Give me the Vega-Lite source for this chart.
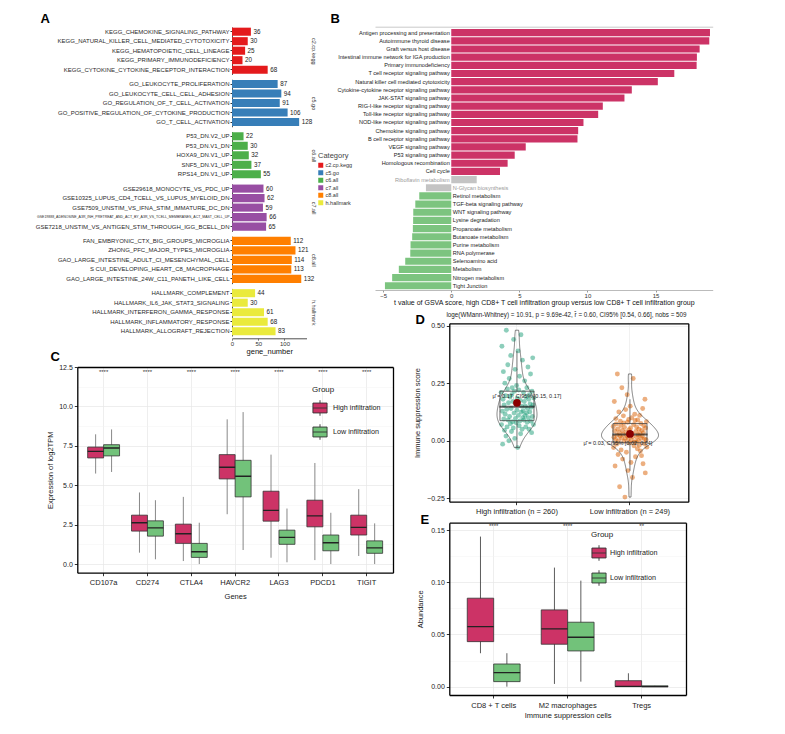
{
"$schema": "https://vega.github.io/schema/vega-lite/v6.json",
"width": 785, "height": 734, "autosize": {"type": "none"}, "padding": 0, "background": "white",
"config": {"view": {"stroke": null}, "font": "Liberation Sans", "text": {"font": "Liberation Sans"},
  "axis": {"labelFont": "Liberation Sans", "titleFont": "Liberation Sans"},
  "legend": {"labelFont": "Liberation Sans", "titleFont": "Liberation Sans"}},
"datasets": {
"gsea": [
{"cat":"c2.cp.kegg","term":"KEGG_CHEMOKINE_SIGNALING_PATHWAY","n":36},
{"cat":"c2.cp.kegg","term":"KEGG_NATURAL_KILLER_CELL_MEDIATED_CYTOTOXICITY","n":30},
{"cat":"c2.cp.kegg","term":"KEGG_HEMATOPOIETIC_CELL_LINEAGE","n":25},
{"cat":"c2.cp.kegg","term":"KEGG_PRIMARY_IMMUNODEFICIENCY","n":20},
{"cat":"c2.cp.kegg","term":"KEGG_CYTOKINE_CYTOKINE_RECEPTOR_INTERACTION","n":68},
{"cat":"c5.go","term":"GO_LEUKOCYTE_PROLIFERATION","n":87},
{"cat":"c5.go","term":"GO_LEUKOCYTE_CELL_CELL_ADHESION","n":94},
{"cat":"c5.go","term":"GO_REGULATION_OF_T_CELL_ACTIVATION","n":91},
{"cat":"c5.go","term":"GO_POSITIVE_REGULATION_OF_CYTOKINE_PRODUCTION","n":106},
{"cat":"c5.go","term":"GO_T_CELL_ACTIVATION","n":128},
{"cat":"c6.all","term":"P53_DN.V2_UP","n":22},
{"cat":"c6.all","term":"P53_DN.V1_DN","n":30},
{"cat":"c6.all","term":"HOXA9_DN.V1_UP","n":32},
{"cat":"c6.all","term":"SNF5_DN.V1_UP","n":37},
{"cat":"c6.all","term":"RPS14_DN.V1_UP","n":55},
{"cat":"c7.all","term":"GSE29618_MONOCYTE_VS_PDC_UP","n":60},
{"cat":"c7.all","term":"GSE10325_LUPUS_CD4_TCELL_VS_LUPUS_MYELOID_DN","n":62},
{"cat":"c7.all","term":"GSE7509_UNSTIM_VS_IFNA_STIM_IMMATURE_DC_DN","n":59},
{"cat":"c7.all","term":"GSE19888_ADENOSINE_A3R_INH_PRETREAT_AND_ACT_BY_A3R_VS_TCELL_MEMBRANES_ACT_MAST_CELL_UP","n":66},
{"cat":"c7.all","term":"GSE7218_UNSTIM_VS_ANTIGEN_STIM_THROUGH_IGG_BCELL_DN","n":65},
{"cat":"c8.all","term":"FAN_EMBRYONIC_CTX_BIG_GROUPS_MICROGLIA","n":112},
{"cat":"c8.all","term":"ZHONG_PFC_MAJOR_TYPES_MICROGLIA","n":121},
{"cat":"c8.all","term":"GAO_LARGE_INTESTINE_ADULT_CI_MESENCHYMAL_CELL","n":114},
{"cat":"c8.all","term":"S CUI_DEVELOPING_HEART_C8_MACROPHAGE","n":113},
{"cat":"c8.all","term":"GAO_LARGE_INTESTINE_24W_C11_PANETH_LIKE_CELL","n":132},
{"cat":"h.hallmark","term":"HALLMARK_COMPLEMENT","n":44},
{"cat":"h.hallmark","term":"HALLMARK_IL6_JAK_STAT3_SIGNALING","n":30},
{"cat":"h.hallmark","term":"HALLMARK_INTERFERON_GAMMA_RESPONSE","n":61},
{"cat":"h.hallmark","term":"HALLMARK_INFLAMMATORY_RESPONSE","n":68},
{"cat":"h.hallmark","term":"HALLMARK_ALLOGRAFT_REJECTION","n":83}
],
"gsva": [
{"path":"Antigen processing and presentation","t":19.0,"cls":"up"},
{"path":"Autoimmune thyroid disease","t":18.95,"cls":"up"},
{"path":"Graft versus host disease","t":18.24,"cls":"up"},
{"path":"Intestinal immune network for IGA production","t":18.04,"cls":"up"},
{"path":"Primary immunodeficiency","t":18.02,"cls":"up"},
{"path":"T cell receptor signaling pathway","t":16.38,"cls":"up"},
{"path":"Natural killer cell mediated cytotoxicity","t":15.17,"cls":"up"},
{"path":"Cytokine-cytokine receptor signaling pathway","t":13.26,"cls":"up"},
{"path":"JAK-STAT signaling pathway","t":12.72,"cls":"up"},
{"path":"RIG-I-like receptor signaling pathway","t":11.13,"cls":"up"},
{"path":"Toll-like receptor signaling pathway","t":10.79,"cls":"up"},
{"path":"NOD-like receptor signaling pathway","t":9.71,"cls":"up"},
{"path":"Chemokine signaling pathway","t":9.32,"cls":"up"},
{"path":"B cell receptor signaling pathway","t":9.27,"cls":"up"},
{"path":"VEGF signaling pathway","t":5.47,"cls":"up"},
{"path":"P53 signaling pathway","t":4.66,"cls":"up"},
{"path":"Homologous recombination","t":4.14,"cls":"up"},
{"path":"Cell cycle","t":3.58,"cls":"up"},
{"path":"Riboflavin metabolism","t":1.87,"cls":"ns"},
{"path":"N-Glycan biosynthesis","t":-1.86,"cls":"ns"},
{"path":"Retinol metabolism","t":-2.35,"cls":"down"},
{"path":"TGF-beta signaling pathway","t":-2.64,"cls":"down"},
{"path":"WNT signaling pathway","t":-2.79,"cls":"down"},
{"path":"Lysine degradation","t":-2.8,"cls":"down"},
{"path":"Propanoate metabolism","t":-2.82,"cls":"down"},
{"path":"Butanoate metabolism","t":-2.87,"cls":"down"},
{"path":"Purine metabolism","t":-2.99,"cls":"down"},
{"path":"RNA polymerase","t":-3.01,"cls":"down"},
{"path":"Selenoamino acid","t":-3.38,"cls":"down"},
{"path":"Metabolism","t":-3.85,"cls":"down"},
{"path":"Nitrogen metabolism","t":-4.34,"cls":"down"},
{"path":"Tight Junction","t":-4.87,"cls":"down"}
],
"expr": [
{"gene":"CD107a","group":"High infiltration","lo":5.74,"q1":6.73,"med":7.15,"q3":7.42,"hi":8.23},
{"gene":"CD107a","group":"Low infiltration","lo":5.84,"q1":6.86,"med":7.36,"q3":7.57,"hi":8.54},
{"gene":"CD274","group":"High infiltration","lo":0.72,"q1":2.09,"med":2.62,"q3":3.1,"hi":4.54},
{"gene":"CD274","group":"Low infiltration","lo":0.3,"q1":1.77,"med":2.3,"q3":2.74,"hi":4.05},
{"gene":"CTLA4","group":"High infiltration","lo":0.19,"q1":1.31,"med":1.92,"q3":2.53,"hi":4.26},
{"gene":"CTLA4","group":"Low infiltration","lo":0.0,"q1":0.42,"med":0.78,"q3":1.31,"hi":2.62},
{"gene":"HAVCR2","group":"High infiltration","lo":3.16,"q1":5.4,"med":6.14,"q3":6.94,"hi":9.18},
{"gene":"HAVCR2","group":"Low infiltration","lo":0.89,"q1":4.26,"med":5.57,"q3":6.58,"hi":9.64},
{"gene":"LAG3","group":"High infiltration","lo":0.4,"q1":2.72,"med":3.4,"q3":4.62,"hi":6.94},
{"gene":"LAG3","group":"Low infiltration","lo":0.11,"q1":1.25,"med":1.69,"q3":2.15,"hi":3.52},
{"gene":"PDCD1","group":"High infiltration","lo":0.25,"q1":2.36,"med":3.06,"q3":4.05,"hi":6.41},
{"gene":"PDCD1","group":"Low infiltration","lo":0.0,"q1":0.84,"med":1.35,"q3":1.84,"hi":3.25},
{"gene":"TIGIT","group":"High infiltration","lo":0.51,"q1":1.84,"med":2.32,"q3":3.1,"hi":4.75},
{"gene":"TIGIT","group":"Low infiltration","lo":0.0,"q1":0.68,"med":1.03,"q3":1.47,"hi":2.58}
],
"exprSig": [
{"gene":"CD107a","sig":"****"},{"gene":"CD274","sig":"****"},{"gene":"CTLA4","sig":"****"},{"gene":"HAVCR2","sig":"****"},
{"gene":"LAG3","sig":"****"},{"gene":"PDCD1","sig":"****"},{"gene":"TIGIT","sig":"****"}
],
"abund": [
{"cell":"CD8 + T cells","group":"High infiltration","lo":0.032,"q1":0.0431,"med":0.0575,"q3":0.0847,"hi":0.1437},
{"cell":"CD8 + T cells","group":"Low infiltration","lo":0.0,"q1":0.0048,"med":0.0134,"q3":0.0217,"hi":0.032},
{"cell":"M2 macrophages","group":"High infiltration","lo":0.0026,"q1":0.0406,"med":0.0553,"q3":0.0735,"hi":0.114},
{"cell":"M2 macrophages","group":"Low infiltration","lo":0.0048,"q1":0.0342,"med":0.0473,"q3":0.0617,"hi":0.1015},
{"cell":"Tregs","group":"High infiltration","lo":0.0,"q1":0.0,"med":0.0002,"q3":0.0057,"hi":0.0128},
{"cell":"Tregs","group":"Low infiltration","lo":0.0,"q1":0.0,"med":0.0,"q3":0.0008,"hi":0.0008}
],
"abundSig": [
{"cell":"CD8 + T cells","sig":"****"},{"cell":"M2 macrophages","sig":"****"},{"cell":"Tregs","sig":"**"}
],
"supp": [
{"g":"High","id":"h1","s":0.21},{"g":"High","id":"h2","s":0.07},{"g":"High","id":"h3","s":0.41},{"g":"High","id":"h4","s":0.128},
{"g":"High","id":"h5","s":-0.015},{"g":"High","id":"h6","s":0.18},{"g":"High","id":"h7","s":0.3},{"g":"High","id":"h8","s":0.094},
{"g":"High","id":"h9","s":0.155},{"g":"High","id":"h10","s":0.045},{"g":"High","id":"h11","s":0.25},{"g":"High","id":"h12","s":0.115},
{"g":"High","id":"h13","s":0.195},{"g":"High","id":"h14","s":0.02},{"g":"High","id":"h15","s":0.48},{"g":"High","id":"h16","s":0.136},
{"g":"High","id":"h17","s":0.06},{"g":"High","id":"h18","s":0.225},{"g":"High","id":"h19","s":0.33},{"g":"High","id":"h20","s":0.09},
{"g":"High","id":"h21","s":0.165},{"g":"High","id":"h22","s":0.0},{"g":"High","id":"h23","s":0.27},{"g":"High","id":"h24","s":0.105},
{"g":"High","id":"h25","s":0.19},{"g":"High","id":"h26","s":0.074},{"g":"High","id":"h27","s":0.37},{"g":"High","id":"h28","s":0.14},
{"g":"High","id":"h29","s":0.04},{"g":"High","id":"h30","s":0.2},{"g":"High","id":"h31","s":0.23},{"g":"High","id":"h32","s":0.082},
{"g":"High","id":"h33","s":0.17},{"g":"High","id":"h34","s":0.055},{"g":"High","id":"h35","s":0.44},{"g":"High","id":"h36","s":0.12},
{"g":"High","id":"h37","s":0.215},{"g":"High","id":"h38","s":0.01},{"g":"High","id":"h39","s":0.31},{"g":"High","id":"h40","s":0.097},
{"g":"High","id":"h41","s":0.16},{"g":"High","id":"h42","s":0.078},{"g":"High","id":"h43","s":0.24},{"g":"High","id":"h44","s":0.132},
{"g":"High","id":"h45","s":0.185},{"g":"High","id":"h46","s":-0.03},{"g":"High","id":"h47","s":0.39},{"g":"High","id":"h48","s":0.11},
{"g":"High","id":"h49","s":0.22},{"g":"High","id":"h50","s":0.065},{"g":"High","id":"h51","s":0.28},{"g":"High","id":"h52","s":0.086},
{"g":"High","id":"h53","s":0.175},{"g":"High","id":"h54","s":0.03},{"g":"High","id":"h55","s":0.46},{"g":"High","id":"h56","s":0.124},
{"g":"High","id":"h57","s":0.15},{"g":"High","id":"h58","s":0.05},{"g":"High","id":"h59","s":0.35},{"g":"High","id":"h60","s":0.1},
{"g":"High","id":"h61","s":0.13},{"g":"High","id":"h62","s":0.21},{"g":"High","id":"h63","s":0.09},{"g":"High","id":"h64","s":0.17},
{"g":"High","id":"h65","s":0.26},{"g":"High","id":"h66","s":0.11},{"g":"High","id":"h67","s":0.15},{"g":"High","id":"h68","s":0.06},
{"g":"High","id":"h69","s":0.19},{"g":"High","id":"h70","s":0.12},{"g":"High","id":"h71","s":0.23},{"g":"High","id":"h72","s":0.08},
{"g":"High","id":"h73","s":0.14},{"g":"High","id":"h74","s":0.32},{"g":"High","id":"h75","s":0.1},{"g":"High","id":"h76","s":0.18},
{"g":"High","id":"h77","s":0.05},{"g":"High","id":"h78","s":0.2},{"g":"High","id":"h79","s":0.125},{"g":"High","id":"h80","s":0.16},
{"g":"High","id":"h81","s":0.29},{"g":"High","id":"h82","s":0.085},{"g":"High","id":"h83","s":0.145},{"g":"High","id":"h84","s":0.035},
{"g":"High","id":"h85","s":0.215},{"g":"High","id":"h86","s":0.105},{"g":"High","id":"h87","s":0.36},{"g":"High","id":"h88","s":0.155},
{"g":"High","id":"h89","s":0.07},{"g":"High","id":"h90","s":0.185},
{"g":"Low","id":"l1","s":0.062},{"g":"Low","id":"l2","s":-0.03},{"g":"Low","id":"l3","s":0.015},{"g":"Low","id":"l4","s":0.17},
{"g":"Low","id":"l5","s":0.042},{"g":"Low","id":"l6","s":-0.11},{"g":"Low","id":"l7","s":0.005},{"g":"Low","id":"l8","s":0.096},
{"g":"Low","id":"l9","s":0.073},{"g":"Low","id":"l10","s":-0.015},{"g":"Low","id":"l11","s":0.024},{"g":"Low","id":"l12","s":0.29},
{"g":"Low","id":"l13","s":0.051},{"g":"Low","id":"l14","s":-0.06},{"g":"Low","id":"l15","s":0.0},{"g":"Low","id":"l16","s":0.125},
{"g":"Low","id":"l17","s":0.035},{"g":"Low","id":"l18","s":-0.2},{"g":"Low","id":"l19","s":0.02},{"g":"Low","id":"l20","s":0.085},
{"g":"Low","id":"l21","s":0.066},{"g":"Low","id":"l22","s":-0.04},{"g":"Low","id":"l23","s":0.012},{"g":"Low","id":"l24","s":0.23},
{"g":"Low","id":"l25","s":0.045},{"g":"Low","id":"l26","s":-0.08},{"g":"Low","id":"l27","s":0.028},{"g":"Low","id":"l28","s":0.108},
{"g":"Low","id":"l29","s":0.077},{"g":"Low","id":"l30","s":-0.002},{"g":"Low","id":"l31","s":0.058},{"g":"Low","id":"l32","s":-0.245},
{"g":"Low","id":"l33","s":0.01},{"g":"Low","id":"l34","s":0.135},{"g":"Low","id":"l35","s":0.038},{"g":"Low","id":"l36","s":-0.05},
{"g":"Low","id":"l37","s":0.022},{"g":"Low","id":"l38","s":0.2},{"g":"Low","id":"l39","s":0.08},{"g":"Low","id":"l40","s":-0.13},
{"g":"Low","id":"l41","s":0.007},{"g":"Low","id":"l42","s":0.092},{"g":"Low","id":"l43","s":0.048},{"g":"Low","id":"l44","s":-0.01},
{"g":"Low","id":"l45","s":0.026},{"g":"Low","id":"l46","s":0.15},{"g":"Low","id":"l47","s":0.055},{"g":"Low","id":"l48","s":-0.095},
{"g":"Low","id":"l49","s":0.002},{"g":"Low","id":"l50","s":0.1},{"g":"Low","id":"l51","s":0.032},{"g":"Low","id":"l52","s":-0.16},
{"g":"Low","id":"l53","s":0.017},{"g":"Low","id":"l54","s":0.27},{"g":"Low","id":"l55","s":0.07},{"g":"Low","id":"l56","s":-0.022},
{"g":"Low","id":"l57","s":-0.004},{"g":"Low","id":"l58","s":0.115},{"g":"Low","id":"l59","s":0.088},{"g":"Low","id":"l60","s":-0.07},
{"g":"Low","id":"l61","s":0.04},{"g":"Low","id":"l62","s":-0.005},{"g":"Low","id":"l63","s":0.06},{"g":"Low","id":"l64","s":0.015},
{"g":"Low","id":"l65","s":-0.035},{"g":"Low","id":"l66","s":0.09},{"g":"Low","id":"l67","s":0.025},{"g":"Low","id":"l68","s":0.0},
{"g":"Low","id":"l69","s":0.05},{"g":"Low","id":"l70","s":-0.02},{"g":"Low","id":"l71","s":0.11},{"g":"Low","id":"l72","s":0.03},
{"g":"Low","id":"l73","s":-0.045},{"g":"Low","id":"l74","s":0.075},{"g":"Low","id":"l75","s":0.01},{"g":"Low","id":"l76","s":-0.065},
{"g":"Low","id":"l77","s":0.045},{"g":"Low","id":"l78","s":0.02},{"g":"Low","id":"l79","s":0.14},{"g":"Low","id":"l80","s":-0.1},
{"g":"Low","id":"l81","s":0.035},{"g":"Low","id":"l82","s":0.065},{"g":"Low","id":"l83","s":-0.012},{"g":"Low","id":"l84","s":0.008},
{"g":"Low","id":"l85","s":0.18},{"g":"Low","id":"l86","s":-0.14},{"g":"Low","id":"l87","s":0.055},{"g":"Low","id":"l88","s":0.004},
{"g":"Low","id":"l89","s":0.082},{"g":"Low","id":"l90","s":-0.028}
],
"suppLab": [
{"g":"High","mu":0.17,"label":"\u03bc\u0302 = 0.17, CI95% [0.15, 0.17]"},
{"g":"Low","mu":0.03,"label":"\u03bc\u0302 = 0.03, CI95% [0.02, 0.04]"}
]
},
"resolve": {"scale": {"x": "independent", "y": "independent", "color": "independent", "xOffset": "independent"}, "axis": {"x": "independent", "y": "independent"}},
"layer": [
{
 "data": {"name": "gsea"},
 "resolve": {"scale": {"y": "independent"}, "axis": {"x": "independent", "y": "independent"}},
 "layer": [
  {"transform": [{"filter": "datum.cat === 'c2.cp.kegg'"}], "resolve": {"axis": {"x": "independent", "y": "independent"}},
   "layer": [
    {"mark": {"type": "bar"}, "encoding": {
      "y": {"field": "term", "type": "nominal", "sort": null, "scale": {"range": [26.95, 74.45], "paddingInner": 0.15, "paddingOuter": 0.075},
            "axis": {"orient": "left", "offset": -232, "title": null, "domainColor": "#222", "domainWidth": 0.8, "tickSize": 2, "tickColor": "#333", "labelPadding": 1, "labelFontSize": 6, "labelColor": "#2A2A2A", "labelLimit": 400, "grid": false}},
      "x": {"field": "n", "type": "quantitative", "scale": {"domain": [0, 142], "range": [232, 306.5], "nice": false, "zero": false},
            "axis": {"orient": "bottom", "offset": -395.7, "values": [0, 50, 100], "title": "gene_number", "titleFontSize": 7.5, "titleFontWeight": "normal", "titlePadding": 1.5, "titleColor": "#111", "labelFontSize": 6, "labelColor": "#333", "labelPadding": 0, "labelFlush": false, "tickSize": 2, "domainColor": "#222", "domainWidth": 0.8, "grid": false}},
      "color": {"field": "cat", "type": "nominal", "scale": {"domain": ["c2.cp.kegg","c5.go","c6.all","c7.all","c8.all","h.hallmark"], "range": ["#E41A1C","#377EB8","#4DAF4A","#984EA3","#FF7F00","#EAEA3C"]},
            "legend": {"orient": "none", "legendX": 318, "legendY": 152, "title": "Category", "titleFontSize": 7.5, "titleFontWeight": "normal", "titleColor": "#444", "titlePadding": 3, "labelFontSize": 5.5, "labelColor": "#333", "labelOffset": 2, "symbolType": "square", "symbolSize": 25, "symbolStrokeWidth": 0, "rowPadding": 0.5}}}},
    {"mark": {"type": "text", "align": "left", "baseline": "middle", "dx": 2.5, "fontSize": 6.3, "color": "#222"}, "encoding": {
      "y": {"field": "term", "type": "nominal", "sort": null, "axis": {"orient": "right", "offset": -472, "labels": false, "ticks": false, "domain": false, "grid": false, "title": "c2.cp.kegg", "titleAngle": 90, "titleFontSize": 5.5, "titleFontWeight": "normal", "titleColor": "#333", "titlePadding": 0, "titleBaseline": "middle"}},
      "x": {"field": "n", "type": "quantitative", "axis": {"orient": "top", "offset": 0, "labels": false, "ticks": false, "domain": false, "grid": false, "title": "A", "titleX": 40, "titleY": 22.5, "titleAlign": "left", "titleBaseline": "alphabetic", "titleAngle": 0, "titleFontSize": 13, "titleFontWeight": "bold", "titleColor": "#000"}},
      "text": {"field": "n", "type": "quantitative"}}}
   ]},
  {"transform": [{"filter": "datum.cat === 'c5.go'"}], "resolve": {"axis": {"x": "independent", "y": "independent"}},
   "layer": [
    {"mark": {"type": "bar"}, "encoding": {
      "y": {"field": "term", "type": "nominal", "sort": null, "scale": {"range": [79.25, 126.75], "paddingInner": 0.15, "paddingOuter": 0.075},
            "axis": {"orient": "left", "offset": -232, "title": null, "domainColor": "#222", "domainWidth": 0.8, "tickSize": 2, "tickColor": "#333", "labelPadding": 1, "labelFontSize": 6, "labelColor": "#2A2A2A", "labelLimit": 400, "grid": false}},
      "x": {"field": "n", "type": "quantitative", "axis": null},
      "color": {"field": "cat", "type": "nominal"}}},
    {"mark": {"type": "text", "align": "left", "baseline": "middle", "dx": 2.5, "fontSize": 6.3, "color": "#222"}, "encoding": {
      "y": {"field": "term", "type": "nominal", "sort": null, "axis": {"orient": "right", "offset": -472, "labels": false, "ticks": false, "domain": false, "grid": false, "title": "c5.go", "titleAngle": 90, "titleFontSize": 5.5, "titleFontWeight": "normal", "titleColor": "#333", "titlePadding": 0, "titleBaseline": "middle"}},
      "x": {"field": "n", "type": "quantitative", "axis": null},
      "text": {"field": "n", "type": "quantitative"}}}
   ]},
  {"transform": [{"filter": "datum.cat === 'c6.all'"}], "resolve": {"axis": {"x": "independent", "y": "independent"}},
   "layer": [
    {"mark": {"type": "bar"}, "encoding": {
      "y": {"field": "term", "type": "nominal", "sort": null, "scale": {"range": [131.55, 179.05], "paddingInner": 0.15, "paddingOuter": 0.075},
            "axis": {"orient": "left", "offset": -232, "title": null, "domainColor": "#222", "domainWidth": 0.8, "tickSize": 2, "tickColor": "#333", "labelPadding": 1, "labelFontSize": 6, "labelColor": "#2A2A2A", "labelLimit": 400, "grid": false}},
      "x": {"field": "n", "type": "quantitative", "axis": null},
      "color": {"field": "cat", "type": "nominal"}}},
    {"mark": {"type": "text", "align": "left", "baseline": "middle", "dx": 2.5, "fontSize": 6.3, "color": "#222"}, "encoding": {
      "y": {"field": "term", "type": "nominal", "sort": null, "axis": {"orient": "right", "offset": -472, "labels": false, "ticks": false, "domain": false, "grid": false, "title": "c6.all", "titleAngle": 90, "titleFontSize": 5.5, "titleFontWeight": "normal", "titleColor": "#333", "titlePadding": 0, "titleBaseline": "middle"}},
      "x": {"field": "n", "type": "quantitative", "axis": null},
      "text": {"field": "n", "type": "quantitative"}}}
   ]},
  {"transform": [{"filter": "datum.cat === 'c7.all'"}], "resolve": {"axis": {"x": "independent", "y": "independent"}},
   "layer": [
    {"mark": {"type": "bar"}, "encoding": {
      "y": {"field": "term", "type": "nominal", "sort": null, "scale": {"range": [183.85, 231.35], "paddingInner": 0.15, "paddingOuter": 0.075},
            "axis": {"orient": "left", "offset": -232, "title": null, "domainColor": "#222", "domainWidth": 0.8, "tickSize": 2, "tickColor": "#333", "labelPadding": 1, "labelFontSize": {"condition": {"test": "length(datum.label) > 60", "value": 3.5}, "value": 6}, "labelColor": "#2A2A2A", "labelLimit": 400, "grid": false}},
      "x": {"field": "n", "type": "quantitative", "axis": null},
      "color": {"field": "cat", "type": "nominal"}}},
    {"mark": {"type": "text", "align": "left", "baseline": "middle", "dx": 2.5, "fontSize": 6.3, "color": "#222"}, "encoding": {
      "y": {"field": "term", "type": "nominal", "sort": null, "axis": {"orient": "right", "offset": -472, "labels": false, "ticks": false, "domain": false, "grid": false, "title": "c7.all", "titleAngle": 90, "titleFontSize": 5.5, "titleFontWeight": "normal", "titleColor": "#333", "titlePadding": 0, "titleBaseline": "middle"}},
      "x": {"field": "n", "type": "quantitative", "axis": null},
      "text": {"field": "n", "type": "quantitative"}}}
   ]},
  {"transform": [{"filter": "datum.cat === 'c8.all'"}], "resolve": {"axis": {"x": "independent", "y": "independent"}},
   "layer": [
    {"mark": {"type": "bar"}, "encoding": {
      "y": {"field": "term", "type": "nominal", "sort": null, "scale": {"range": [236.15, 283.65], "paddingInner": 0.15, "paddingOuter": 0.075},
            "axis": {"orient": "left", "offset": -232, "title": null, "domainColor": "#222", "domainWidth": 0.8, "tickSize": 2, "tickColor": "#333", "labelPadding": 1, "labelFontSize": 6, "labelColor": "#2A2A2A", "labelLimit": 400, "grid": false}},
      "x": {"field": "n", "type": "quantitative", "axis": null},
      "color": {"field": "cat", "type": "nominal"}}},
    {"mark": {"type": "text", "align": "left", "baseline": "middle", "dx": 2.5, "fontSize": 6.3, "color": "#222"}, "encoding": {
      "y": {"field": "term", "type": "nominal", "sort": null, "axis": {"orient": "right", "offset": -472, "labels": false, "ticks": false, "domain": false, "grid": false, "title": "c8.all", "titleAngle": 90, "titleFontSize": 5.5, "titleFontWeight": "normal", "titleColor": "#333", "titlePadding": 0, "titleBaseline": "middle"}},
      "x": {"field": "n", "type": "quantitative", "axis": null},
      "text": {"field": "n", "type": "quantitative"}}}
   ]},
  {"transform": [{"filter": "datum.cat === 'h.hallmark'"}], "resolve": {"axis": {"x": "independent", "y": "independent"}},
   "layer": [
    {"mark": {"type": "bar"}, "encoding": {
      "y": {"field": "term", "type": "nominal", "sort": null, "scale": {"range": [288.45, 335.95], "paddingInner": 0.15, "paddingOuter": 0.075},
            "axis": {"orient": "left", "offset": -232, "title": null, "domainColor": "#222", "domainWidth": 0.8, "tickSize": 2, "tickColor": "#333", "labelPadding": 1, "labelFontSize": 6, "labelColor": "#2A2A2A", "labelLimit": 400, "grid": false}},
      "x": {"field": "n", "type": "quantitative", "axis": null},
      "color": {"field": "cat", "type": "nominal"}}},
    {"mark": {"type": "text", "align": "left", "baseline": "middle", "dx": 2.5, "fontSize": 6.3, "color": "#222"}, "encoding": {
      "y": {"field": "term", "type": "nominal", "sort": null, "axis": {"orient": "right", "offset": -472, "labels": false, "ticks": false, "domain": false, "grid": false, "title": "h.hallmark", "titleAngle": 90, "titleFontSize": 5.5, "titleFontWeight": "normal", "titleColor": "#333", "titlePadding": 0, "titleBaseline": "middle"}},
      "x": {"field": "n", "type": "quantitative", "axis": null},
      "text": {"field": "n", "type": "quantitative"}}}
   ]}
 ]
},
{
 "data": {"name": "gsva"},
 "resolve": {"axis": {"x": "independent", "y": "independent"}},
 "layer": [
  {"mark": {"type": "bar"}, "encoding": {
    "y": {"field": "path", "type": "nominal", "sort": null, "scale": {"domain": ["Antigen processing and presentation","Autoimmune thyroid disease","Graft versus host disease","Intestinal immune network for IGA production","Primary immunodeficiency","T cell receptor signaling pathway","Natural killer cell mediated cytotoxicity","Cytokine-cytokine receptor signaling pathway","JAK-STAT signaling pathway","RIG-I-like receptor signaling pathway","Toll-like receptor signaling pathway","NOD-like receptor signaling pathway","Chemokine signaling pathway","B cell receptor signaling pathway","VEGF signaling pathway","P53 signaling pathway","Homologous recombination","Cell cycle","Riboflavin metabolism","N-Glycan biosynthesis","Retinol metabolism","TGF-beta signaling pathway","WNT signaling pathway","Lysine degradation","Propanoate metabolism","Butanoate metabolism","Purine metabolism","RNA polymerase","Selenoamino acid","Metabolism","Nitrogen metabolism","Tight Junction"], "range": [28.6, 289.8], "paddingInner": 0.12, "paddingOuter": 0.06}, "axis": null},
    "x": {"field": "t", "type": "quantitative", "scale": {"domain": [-5.6, 19.2], "range": [375, 712.7], "nice": false, "zero": false},
          "axis": {"orient": "bottom", "offset": -444, "values": [-5, 0, 5, 10, 15], "title": "t value of GSVA score, high CD8+ T cell infiltration group versus low CD8+ T cell infiltration group", "titleFontSize": 7, "titleFontWeight": "normal", "titlePadding": 0, "titleColor": "#111", "labelFontSize": 6, "labelColor": "#333", "labelPadding": 0, "labelFlush": false, "tickSize": 2, "tickColor": "#999", "domainColor": "#AAAAAA", "domainWidth": 0.8, "grid": false}},
    "color": {"field": "cls", "type": "nominal", "scale": {"domain": ["up","ns","down"], "range": ["#CC3366","#C4C4C4","#7CC47F"]}, "legend": null}}},
  {"transform": [{"filter": "datum.t > 0"}], "mark": {"type": "text", "align": "right", "baseline": "middle", "dx": -1.5, "fontSize": 5.6}, "encoding": {
    "y": {"field": "path", "type": "nominal", "sort": null, "axis": null},
    "x": {"datum": 0, "type": "quantitative", "axis": {"orient": "top", "offset": -26.7, "labels": false, "ticks": false, "grid": false, "domain": true, "domainColor": "#BBBBBB", "domainWidth": 0.8, "title": "B", "titleX": 330, "titleY": -4.2, "titleAlign": "left", "titleBaseline": "alphabetic", "titleAngle": 0, "titleFontSize": 13, "titleFontWeight": "bold", "titleColor": "#000"}},
    "text": {"field": "path"},
    "color": {"condition": {"test": "datum.cls === 'ns'", "value": "#9A9A9A"}, "value": "#1A1A1A"}}},
  {"transform": [{"filter": "datum.t < 0"}], "mark": {"type": "text", "align": "left", "baseline": "middle", "dx": 1.5, "fontSize": 5.6}, "encoding": {
    "y": {"field": "path", "type": "nominal", "sort": null, "axis": null},
    "x": {"datum": 0, "type": "quantitative", "axis": null},
    "text": {"field": "path"},
    "color": {"condition": {"test": "datum.cls === 'ns'", "value": "#9A9A9A"}, "value": "#1A1A1A"}}}
 ]
},
{
 "resolve": {"axis": {"x": "independent", "y": "independent"}},
 "layer": [
  {"data": {"name": "expr"}, "mark": {"type": "rule", "color": "#7A7A7A", "strokeWidth": 0.9}, "encoding": {
    "x": {"field": "gene", "type": "nominal", "sort": null, "scale": {"domain": ["CD107a","CD274","CTLA4","HAVCR2","LAG3","PDCD1","TIGIT"], "range": [77.3, 393], "paddingInner": 0, "paddingOuter": 0.1},
          "axis": {"orient": "bottom", "offset": -161.3, "title": "Genes", "titleFontSize": 7.5, "titleFontWeight": "normal", "titlePadding": 6, "titleColor": "#222", "labelFontSize": 7.5, "labelColor": "#222", "labelAngle": 0, "labelPadding": 3, "tickSize": 3, "tickColor": "#333", "domainColor": "#000", "domainWidth": 1.3, "grid": false, "bandPosition": 0.5}},
    "xOffset": {"field": "group", "type": "nominal", "scale": {"domain": ["High infiltration","Low infiltration"], "paddingInner": 0, "paddingOuter": 0.375}},
    "y": {"field": "lo", "type": "quantitative", "scale": {"domain": [-0.55, 12.5], "range": [572.7, 367], "nice": false, "zero": false},
          "axis": {"orient": "left", "offset": -77.3, "values": [0, 2.5, 5, 7.5, 10, 12.5], "format": ".1f", "title": "Expression of log2TPM", "titleFontSize": 7.5, "titleFontWeight": "normal", "titlePadding": 4, "titleColor": "#222", "labelFontSize": 7, "labelColor": "#222", "tickSize": 3, "tickColor": "#333", "grid": true, "gridColor": "#E6E6E6", "gridWidth": 0.7, "domainColor": "#000", "domainWidth": 1.3}},
    "y2": {"field": "hi"}}},
  {"data": {"name": "expr"}, "mark": {"type": "bar", "stroke": "#333", "strokeWidth": 0.8}, "encoding": {
    "x": {"field": "gene", "type": "nominal", "sort": null, "axis": {"orient": "top", "offset": -367, "labels": false, "ticks": false, "domain": true, "domainColor": "#000", "domainWidth": 1.3, "grid": true, "gridColor": "#E6E6E6", "gridWidth": 0.7, "bandPosition": 0.5, "title": "C", "titleX": 50, "titleY": -7, "titleAlign": "left", "titleBaseline": "alphabetic", "titleAngle": 0, "titleFontSize": 13, "titleFontWeight": "bold", "titleColor": "#000"}},
    "xOffset": {"field": "group", "type": "nominal"},
    "y": {"field": "q1", "type": "quantitative", "axis": {"orient": "right", "offset": -392, "labels": false, "ticks": false, "grid": false, "domain": true, "domainColor": "#000", "domainWidth": 1.3, "title": null}},
    "y2": {"field": "q3"},
    "color": {"field": "group", "type": "nominal", "scale": {"domain": ["High infiltration","Low infiltration"], "range": ["#CC3366","#72C27A"]},
      "legend": {"orient": "none", "legendX": 312, "legendY": 386, "title": "Group", "titleFontSize": 8, "titleFontWeight": "normal", "titleColor": "#222", "titlePadding": 6, "labelFontSize": 7.2, "labelColor": "#222", "labelOffset": 5, "symbolType": "M-1,-0.7H1V0.7H-1Z M-1,0H1 M0,-0.7V-1.1 M0,0.7V1.1", "symbolSize": 200, "symbolStrokeColor": "#333", "symbolStrokeWidth": 0.9, "rowPadding": 4}}}},
  {"data": {"name": "expr"}, "mark": {"type": "bar", "fillOpacity": 0, "stroke": "#222", "strokeWidth": 1.3}, "encoding": {
    "x": {"field": "gene", "type": "nominal", "sort": null, "axis": null},
    "xOffset": {"field": "group", "type": "nominal"},
    "y": {"field": "med", "type": "quantitative", "axis": {"orient": "left", "offset": -77.3, "values": [1.25, 3.75, 6.25, 8.75, 11.25], "labels": false, "ticks": false, "domain": false, "grid": true, "gridColor": "#F3F3F3", "gridWidth": 0.5, "title": null}},
    "y2": {"field": "med"}}},
  {"data": {"name": "exprSig"}, "mark": {"type": "text", "fontSize": 6, "color": "#333", "baseline": "middle"}, "encoding": {
    "x": {"field": "gene", "type": "nominal", "sort": null, "axis": null},
    "y": {"datum": 12.2, "type": "quantitative", "axis": null},
    "text": {"field": "sig"}}}
 ]
},
{
 "resolve": {"scale": {"x": "independent"}, "axis": {"x": "independent", "y": "independent"}},
 "layer": [
  {"data": {"name": "supp"}, "transform": [{"filter": "datum.g === 'High'"}], "mark": {"type": "circle", "color": "#1B9E77", "opacity": 0.5, "size": 24}, "encoding": {
    "x": {"field": "id", "type": "nominal", "sort": null, "scale": {"range": [501, 534]}, "axis": null},
    "y": {"field": "s", "type": "quantitative", "scale": {"domain": [-0.265, 0.51], "range": [501.7, 323.3], "nice": false, "zero": false}, "axis": null}}},
  {"data": {"name": "supp"}, "transform": [{"filter": "datum.g === 'Low'"}], "mark": {"type": "circle", "color": "#D95F02", "opacity": 0.5, "size": 24}, "encoding": {
    "x": {"field": "id", "type": "nominal", "sort": null, "scale": {"range": [613, 647]}, "axis": null},
    "y": {"field": "s", "type": "quantitative", "axis": null}}},
  {"data": {"name": "supp"}, "transform": [{"filter": "datum.g === 'High'"}, {"density": "s", "extent": [-0.03, 0.48], "bandwidth": 0.033, "steps": 150}],
   "mark": {"type": "area", "orient": "horizontal", "fillOpacity": 0, "stroke": "#333", "strokeWidth": 0.6}, "encoding": {
    "y": {"field": "value", "type": "quantitative", "axis": null},
    "x": {"field": "density", "type": "quantitative", "stack": "center", "impute": null, "scale": {"range": [497, 537], "nice": false, "zero": true}, "axis": null}}},
  {"data": {"name": "supp"}, "transform": [{"filter": "datum.g === 'Low'"}, {"density": "s", "extent": [-0.245, 0.29], "bandwidth": 0.025, "steps": 150}],
   "mark": {"type": "area", "orient": "horizontal", "fillOpacity": 0, "stroke": "#333", "strokeWidth": 0.6}, "encoding": {
    "y": {"field": "value", "type": "quantitative", "axis": null},
    "x": {"field": "density", "type": "quantitative", "stack": "center", "impute": null, "scale": {"range": [601.5, 658.5], "nice": false, "zero": true}, "axis": null}}},
  {"resolve": {"axis": {"x": "independent", "y": "independent"}},
   "layer": [
    {"data": {"name": "supp"}, "mark": {"type": "boxplot", "extent": 1.5, "size": 34, "outliers": false, "ticks": false, "box": {"fill": "white", "fillOpacity": 0, "stroke": "#444", "strokeWidth": 0.8}, "median": {"stroke": "#222", "strokeWidth": 1.2}, "rule": {"stroke": "#444", "strokeWidth": 0.7}},
     "encoding": {
      "x": {"field": "g", "type": "nominal", "scale": {"domain": ["High","Low"], "range": [449.3, 688.3], "paddingInner": 0, "paddingOuter": 0.0575, "align": 0.86},
            "axis": {"orient": "bottom", "offset": -232.3, "title": null, "labelExpr": "datum.label === 'High' ? 'High infiltration (n = 260)' : 'Low infiltration (n = 249)'", "labelFontSize": 7.5, "labelColor": "#222", "labelPadding": 3, "labelAngle": 0, "tickSize": 3, "tickColor": "#333", "domainColor": "#000", "domainWidth": 1.3, "grid": false, "bandPosition": 0.5}},
      "y": {"field": "s", "type": "quantitative", "scale": {"domain": [-0.265, 0.51], "range": [501.7, 323.3], "nice": false, "zero": false},
            "axis": {"orient": "left", "offset": -449.3, "values": [-0.25, 0, 0.25, 0.5], "format": ".2f", "title": "Immune suppression score", "titleFontSize": 7.5, "titleFontWeight": "normal", "titlePadding": 5, "titleColor": "#222", "labelFontSize": 7, "labelColor": "#222", "tickSize": 3, "tickColor": "#333", "grid": true, "gridColor": "#EBEBEB", "gridWidth": 0.7, "domainColor": "#000", "domainWidth": 1.3}}}},
    {"data": {"name": "supp"}, "mark": {"type": "point", "filled": true, "color": "#8B0000", "size": 60, "opacity": 1}, "encoding": {
      "x": {"field": "g", "type": "nominal", "axis": {"orient": "top", "offset": -323.3, "labels": false, "ticks": false, "domain": true, "domainColor": "#000", "domainWidth": 1.3, "grid": true, "gridColor": "#EBEBEB", "gridWidth": 0.7, "bandPosition": 0.5, "title": "loge(WMann-Whitney) = 10.91, p = 9.69e-42, r\u0302 = 0.60, CI95% [0.54, 0.66], nobs = 509", "titleX": 566, "titleY": -6.8, "titleAlign": "center", "titleBaseline": "alphabetic", "titleAngle": 0, "titleFontSize": 6.3, "titleFontWeight": "normal", "titleColor": "#222"}},
      "y": {"aggregate": "mean", "field": "s", "type": "quantitative", "axis": {"orient": "right", "offset": -96.7, "labels": false, "ticks": false, "grid": false, "domain": true, "domainColor": "#000", "domainWidth": 1.3, "title": "D", "titleX": -273.3, "titleY": 323, "titleAngle": 0, "titleAlign": "left", "titleBaseline": "alphabetic", "titleFontSize": 13, "titleFontWeight": "bold", "titleColor": "#000"}}}},
    {"data": {"name": "suppLab"}, "transform": [{"filter": "datum.g === 'High'"}], "mark": {"type": "text", "fontSize": 5.5, "dx": 10, "dy": -6, "color": "#222"}, "encoding": {
      "x": {"field": "g", "type": "nominal", "axis": null},
      "y": {"field": "mu", "type": "quantitative", "axis": null},
      "text": {"field": "label"}}},
    {"data": {"name": "suppLab"}, "transform": [{"filter": "datum.g === 'Low'"}], "mark": {"type": "text", "fontSize": 5.5, "dx": -12, "dy": 9.5, "color": "#222"}, "encoding": {
      "x": {"field": "g", "type": "nominal", "axis": null},
      "y": {"field": "mu", "type": "quantitative", "axis": null},
      "text": {"field": "label"}}}
   ]}
 ]
},
{
 "resolve": {"axis": {"x": "independent", "y": "independent"}},
 "layer": [
  {"data": {"name": "abund"}, "mark": {"type": "rule", "color": "#333", "strokeWidth": 0.8}, "encoding": {
    "x": {"field": "cell", "type": "nominal", "sort": null, "scale": {"domain": ["CD8 + T cells","M2 macrophages","Tregs"], "range": [449.3, 686], "paddingInner": 0, "paddingOuter": 0.1},
          "axis": {"orient": "bottom", "offset": -39, "title": "Immune suppression cells", "titleFontSize": 7.5, "titleFontWeight": "normal", "titlePadding": 3, "titleColor": "#222", "labelFontSize": 7.5, "labelColor": "#222", "labelAngle": 0, "labelPadding": 3, "tickSize": 3, "tickColor": "#333", "domainColor": "#000", "domainWidth": 1.3, "grid": false, "bandPosition": 0.5}},
    "xOffset": {"field": "group", "type": "nominal", "scale": {"domain": ["High infiltration","Low infiltration"], "paddingInner": 0, "paddingOuter": 0.4}},
    "y": {"field": "lo", "type": "quantitative", "scale": {"domain": [-0.008, 0.157], "range": [695, 522.7], "nice": false, "zero": false},
          "axis": {"orient": "left", "offset": -449.3, "values": [0, 0.05, 0.1, 0.15], "format": ".2f", "title": "Abundance", "titleFontSize": 7.5, "titleFontWeight": "normal", "titlePadding": 6, "titleColor": "#222", "labelFontSize": 7, "labelColor": "#222", "tickSize": 3, "tickColor": "#333", "grid": true, "gridColor": "#E6E6E6", "gridWidth": 0.7, "domainColor": "#000", "domainWidth": 1.3}},
    "y2": {"field": "hi"}}},
  {"data": {"name": "abund"}, "mark": {"type": "bar", "stroke": "#333", "strokeWidth": 0.8}, "encoding": {
    "x": {"field": "cell", "type": "nominal", "sort": null, "axis": {"orient": "top", "offset": -522.7, "labels": false, "ticks": false, "domain": true, "domainColor": "#000", "domainWidth": 1.3, "grid": true, "gridColor": "#E6E6E6", "gridWidth": 0.7, "bandPosition": 0.5, "title": "E", "titleX": 420, "titleY": 0.3, "titleAlign": "left", "titleBaseline": "alphabetic", "titleAngle": 0, "titleFontSize": 13, "titleFontWeight": "bold", "titleColor": "#000"}},
    "xOffset": {"field": "group", "type": "nominal"},
    "y": {"field": "q1", "type": "quantitative", "axis": {"orient": "right", "offset": -99, "labels": false, "ticks": false, "grid": false, "domain": true, "domainColor": "#000", "domainWidth": 1.3, "title": null}},
    "y2": {"field": "q3"},
    "color": {"field": "group", "type": "nominal", "scale": {"domain": ["High infiltration","Low infiltration"], "range": ["#CC3366","#72C27A"]},
      "legend": {"orient": "none", "legendX": 591, "legendY": 531, "title": "Group", "titleFontSize": 8, "titleFontWeight": "normal", "titleColor": "#222", "titlePadding": 6, "labelFontSize": 7.2, "labelColor": "#222", "labelOffset": 3, "symbolType": "M-1,-0.7H1V0.7H-1Z M-1,0H1 M0,-0.7V-1.1 M0,0.7V1.1", "symbolSize": 200, "symbolStrokeColor": "#333", "symbolStrokeWidth": 0.9, "rowPadding": 5}}}},
  {"data": {"name": "abund"}, "mark": {"type": "bar", "fillOpacity": 0, "stroke": "#222", "strokeWidth": 1.3}, "encoding": {
    "x": {"field": "cell", "type": "nominal", "sort": null, "axis": null},
    "xOffset": {"field": "group", "type": "nominal"},
    "y": {"field": "med", "type": "quantitative", "axis": {"orient": "left", "offset": -449.3, "values": [0.025, 0.075, 0.125], "labels": false, "ticks": false, "domain": false, "grid": true, "gridColor": "#F3F3F3", "gridWidth": 0.5, "title": null}},
    "y2": {"field": "med"}}},
  {"data": {"name": "abundSig"}, "mark": {"type": "text", "fontSize": 6, "color": "#333", "baseline": "middle"}, "encoding": {
    "x": {"field": "cell", "type": "nominal", "sort": null, "axis": null},
    "y": {"datum": 0.154, "type": "quantitative", "axis": null},
    "text": {"field": "sig"}}}
 ]
}
]
}
